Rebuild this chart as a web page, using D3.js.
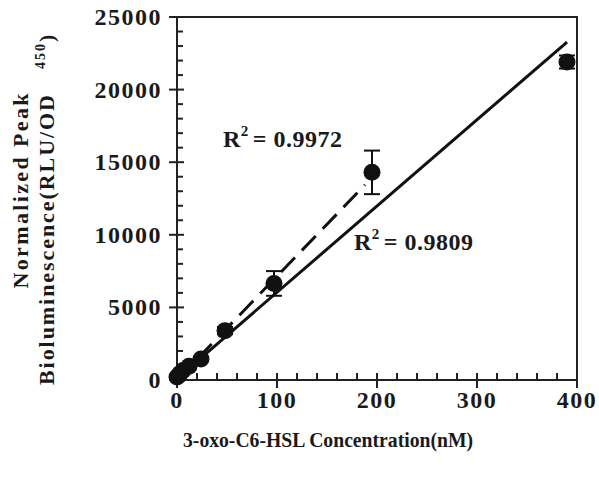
<!DOCTYPE html>
<html>
<head>
<meta charset="utf-8">
<script src="https://cdn.jsdelivr.net/npm/d3@7"></script>
<style>
  body { margin: 0; background: #fff; }
  text { font-family: "Liberation Serif", "Times New Roman", serif; font-weight: bold; fill: #1a1a1a; }
</style>
</head>
<body>
<div id="chart"></div>
<script>
// data
var conc = [0, 1.5, 3, 6, 12, 24, 48, 97, 195, 390];
var lum  = [200, 300, 450, 650, 950, 1450, 3400, 6650, 14300, 21900];
var err  = [50, 50, 80, 100, 120, 150, 250, 850, 1500, 450];
var xTicks = [0, 100, 200, 300, 400];
var yTicks = [0, 5000, 10000, 15000, 20000, 25000];
// fitted lines: [x0, x1], slope, intercept
var fitAll = {x: [0, 390], slope: 59.4, icpt: 100, r2: "0.9809"};
var fitLow = {x: [0, 188], slope: 71.5, icpt: 0, r2: "0.9972"};

var W = 599, H = 477;
var svg = d3.select("#chart").append("svg")
    .attr("width", W).attr("height", H);

var x = d3.scaleLinear().domain([0, 400]).range([177, 577]);
var y = d3.scaleLinear().domain([0, 25000]).range([380, 17]);

// frame (top and right)
svg.append("path")
    .attr("d", "M" + x(0) + "," + y(25000) + "H" + x(400) + "V" + y(0))
    .attr("fill", "none").attr("stroke", "#222").attr("stroke-width", 2);

// y axis
var yAxis = svg.append("g").attr("transform", "translate(" + x(0) + ",0)");
yAxis.append("line").attr("y1", y(0)).attr("y2", y(25000))
    .attr("stroke", "#222").attr("stroke-width", 2);
yAxis.selectAll(".ymin").data(d3.range(0, 25001, 1000)).enter()
    .append("line")
    .attr("x1", 0).attr("x2", function(d) { return d % 5000 === 0 ? -8 : 6; })
    .attr("y1", function(d) { return y(d); }).attr("y2", function(d) { return y(d); })
    .attr("stroke", "#222").attr("stroke-width", 2);
yAxis.selectAll(".ymaj").data(yTicks).enter()
    .append("line")
    .attr("x1", 0).attr("x2", 7)
    .attr("y1", function(d) { return y(d); }).attr("y2", function(d) { return y(d); })
    .attr("stroke", "#222").attr("stroke-width", 2);
yAxis.selectAll(".ylab").data(yTicks).enter()
    .append("text")
    .attr("x", -15).attr("y", function(d) { return y(d) + 8; })
    .attr("text-anchor", "end")
    .style("font-size", "24px").style("letter-spacing", "1.5px")
    .text(function(d) { return d; });

// x axis
var xAxis = svg.append("g").attr("transform", "translate(0," + y(0) + ")");
xAxis.append("line").attr("x1", x(0)).attr("x2", x(400))
    .attr("stroke", "#222").attr("stroke-width", 2);
xAxis.selectAll(".xmin").data(d3.range(0, 401, 20)).enter()
    .append("line")
    .attr("y1", function(d) { return d % 100 === 0 ? 8 : 0; }).attr("y2", -7)
    .attr("x1", function(d) { return x(d); }).attr("x2", function(d) { return x(d); })
    .attr("stroke", "#222").attr("stroke-width", 2);
xAxis.selectAll(".xlab").data(xTicks).enter()
    .append("text")
    .attr("x", function(d) { return x(d); }).attr("y", 28)
    .attr("text-anchor", "middle")
    .style("font-size", "24px").style("letter-spacing", "1.5px")
    .text(function(d) { return d; });

// axis titles
svg.append("text")
    .attr("x", 328).attr("y", 447)
    .attr("text-anchor", "middle")
    .attr("textLength", 290).attr("lengthAdjust", "spacingAndGlyphs")
    .style("font-size", "21px")
    .text("3-oxo-C6-HSL Concentration(nM)");

svg.append("text")
    .attr("transform", "translate(28,191) rotate(-90)")
    .attr("text-anchor", "middle")
    .attr("textLength", 195).attr("lengthAdjust", "spacing")
    .style("font-size", "22px")
    .text("Normalized Peak");

var yt2 = svg.append("text")
    .attr("transform", "translate(54,385) rotate(-90)")
    .style("font-size", "22px");
yt2.append("tspan")
    .attr("textLength", 290).attr("lengthAdjust", "spacing")
    .text("Bioluminescence(RLU/OD");
yt2.append("tspan")
    .attr("dx", 24).attr("dy", -9)
    .style("font-size", "14px").style("letter-spacing", "2px")
    .text("450");
yt2.append("tspan").attr("dy", 9).text(")");

// fit lines
function fitLine(f) {
    return [[f.x[0], f.icpt + f.slope * f.x[0]], [f.x[1], f.icpt + f.slope * f.x[1]]];
}
var line = d3.line()
    .x(function(d) { return x(d[0]); })
    .y(function(d) { return y(d[1]); });

svg.append("path").datum(fitLine(fitAll))
    .attr("d", line).attr("fill", "none")
    .attr("stroke", "#111").attr("stroke-width", 3);
svg.append("path").datum(fitLine(fitLow))
    .attr("d", line).attr("fill", "none")
    .attr("stroke", "#111").attr("stroke-width", 3)
    .attr("stroke-dasharray", "20,10");

// error bars
var pts = conc.map(function(c, i) { return {c: c, v: lum[i], e: err[i]}; });
var eb = svg.append("g").attr("stroke", "#111").attr("stroke-width", 2);
eb.selectAll(".ev").data(pts).enter().append("line")
    .attr("x1", function(d) { return x(d.c); }).attr("x2", function(d) { return x(d.c); })
    .attr("y1", function(d) { return y(d.v - d.e); }).attr("y2", function(d) { return y(d.v + d.e); });
eb.selectAll(".et").data(pts).enter().append("line")
    .attr("x1", function(d) { return x(d.c) - 8; }).attr("x2", function(d) { return x(d.c) + 8; })
    .attr("y1", function(d) { return y(d.v + d.e); }).attr("y2", function(d) { return y(d.v + d.e); });
eb.selectAll(".eb").data(pts).enter().append("line")
    .attr("x1", function(d) { return x(d.c) - 8; }).attr("x2", function(d) { return x(d.c) + 8; })
    .attr("y1", function(d) { return y(d.v - d.e); }).attr("y2", function(d) { return y(d.v - d.e); });

// points
svg.append("g").selectAll("circle").data(pts).enter()
    .append("circle")
    .attr("cx", function(d) { return x(d.c); })
    .attr("cy", function(d) { return y(d.v); })
    .attr("r", 8.5)
    .attr("fill", "#111");

// R² labels
function r2Label(px, py, val) {
    var t = svg.append("text").attr("x", px).attr("y", py)
        .style("font-size", "24px").style("letter-spacing", "0.5px");
    t.append("tspan").text("R");
    t.append("tspan").attr("dy", -11).style("font-size", "15px").text("2");
    t.append("tspan").attr("dy", 11).attr("dx", 4).text("= " + val);
}
r2Label(223, 147, fitLow.r2);
r2Label(354, 250, fitAll.r2);
</script>
</body>
</html>
